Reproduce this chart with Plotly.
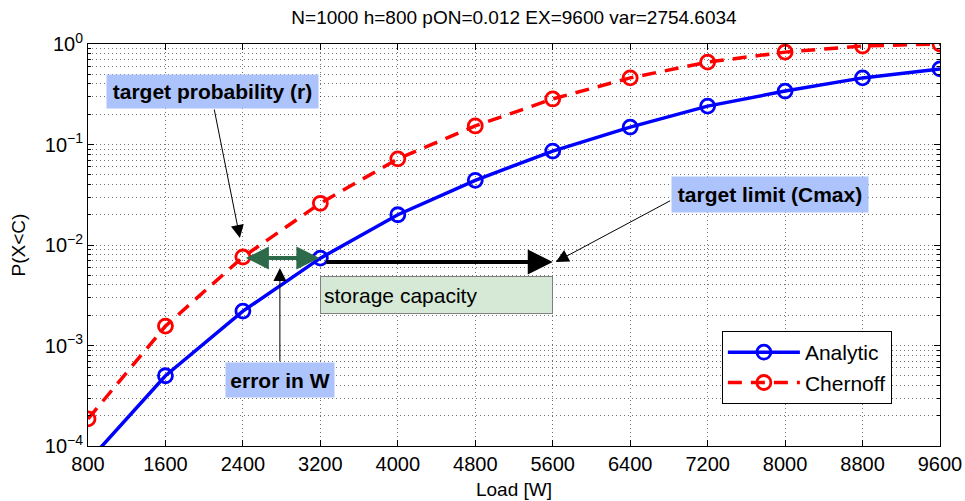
import plotly.graph_objects as go

# ---- data ----
load_w = [800, 1600, 2400, 3200, 4000, 4800, 5600, 6400, 7200, 8000, 8800, 9600]
analytic = [7.0e-5, 5.0e-4, 2.2e-3, 7.4e-3, 0.020, 0.044, 0.086, 0.149, 0.241, 0.34, 0.46, 0.565]
chernoff = [1.86e-4, 1.56e-3, 7.6e-3, 0.026, 0.072, 0.153, 0.284, 0.46, 0.66, 0.83, 0.955, 1.0]
x_ticks = [800, 1600, 2400, 3200, 4000, 4800, 5600, 6400, 7200, 8000, 8800, 9600]
y_ticks = [1e-4, 1e-3, 1e-2, 1e-1, 1]
y_ticktext = ["10<sup>−4</sup>", "10<sup>−3</sup>", "10<sup>−2</sup>", "10<sup>−1</sup>", "10<sup>0</sup>"]
y_minor = [m * 10 ** e for e in range(-4, 0) for m in range(2, 10)]

title_text = "N=1000 h=800 pON=0.012 EX=9600 var=2754.6034"
FONT = "Liberation Sans, Arial, Helvetica, sans-serif"
GRID = "rgba(0,0,0,0.55)"
DOT = "1px,3px"

fig = go.Figure()
fig.add_trace(go.Scatter(
    x=load_w, y=analytic, name="Analytic", mode="lines+markers",
    line=dict(color="#0000ff", width=3.5),
    marker=dict(symbol="circle-open", size=14, color="#0000ff", line=dict(width=2.8, color="#0000ff")),
))
fig.add_trace(go.Scatter(
    x=load_w, y=chernoff, name="Chernoff", mode="lines+markers",
    line=dict(color="#ff0000", width=3.5, dash="14px,9px"),
    marker=dict(symbol="circle-open", size=14, color="#ff0000", line=dict(width=2.8, color="#ff0000")),
))

BLUE_BOX = "#adc3fb"

ann = []
# boxes
ann.append(dict(x=2090, y=-0.468, xref="x", yref="y", text="<b>target probability (r)</b>",
                showarrow=False, bgcolor=BLUE_BOX, font=dict(size=21, color="black", family=FONT),
                width=205, height=27, borderpad=3))
ann.append(dict(x=7840, y=-1.498, xref="x", yref="y", text="<b>target limit (Cmax)</b>",
                showarrow=False, bgcolor=BLUE_BOX, font=dict(size=21, color="black", family=FONT),
                width=190, height=29, borderpad=3))
ann.append(dict(x=4397, y=-2.498, xref="x", yref="y", text="storage capacity",
                showarrow=False, bgcolor="#d6e8d6", bordercolor="#7f7f7f", borderwidth=1,
                font=dict(size=21, color="black", family=FONT), align="left",
                width=225, height=30, borderpad=3))
ann.append(dict(x=2782, y=-3.343, xref="x", yref="y", text="<b>error in W</b>",
                showarrow=False, bgcolor=BLUE_BOX, font=dict(size=21, color="black", family=FONT),
                width=102, height=28, borderpad=3))


def arrow(x, y, ax, ay, color="black", width=1, size=1.0, head=2, side="end"):
    return dict(x=x, y=y, ax=ax, ay=ay, xref="x", yref="y", axref="x", ayref="y",
                text="", showarrow=True, arrowcolor=color, arrowwidth=width,
                arrowsize=size, arrowhead=head, startarrowhead=head, startarrowsize=size,
                arrowside=side, standoff=0, startstandoff=0)


ann.append(arrow(2369, -1.93, 2101, -0.637, width=1, size=2.6))
ann.append(arrow(5631, -2.169, 6828, -1.552, width=1, size=2.6))
ann.append(arrow(2782, -2.229, 2782, -3.174, width=1, size=2.6))
ann.append(arrow(5600, -2.169, 3246, -2.169, width=4, size=1.25))
ann.append(arrow(3190, -2.129, 2415, -2.129, color="#2d6a4a", width=4, size=1.15, side="end+start"))

fig.update_layout(
    width=965, height=501,
    margin=dict(l=88, r=25, t=44, b=55, autoexpand=False),
    paper_bgcolor="white", plot_bgcolor="white",
    font=dict(family=FONT, size=20, color="black"),
    title=dict(text=title_text, x=0.5, xref="paper", xanchor="center", y=0.965, yanchor="middle",
               font=dict(size=19, family=FONT)),
    showlegend=True,
    legend=dict(x=0.744, y=0.286, xanchor="left", yanchor="top", bgcolor="white",
                bordercolor="black", borderwidth=1, font=dict(size=21, family=FONT),
                tracegroupgap=0, itemwidth=72),
    annotations=ann,
)
fig.update_xaxes(
    range=[800, 9600], tickvals=x_ticks, ticks="inside", ticklen=6, tickcolor="black",
    showline=True, linecolor="black", linewidth=1, mirror="ticks", automargin=False,
    showgrid=True, gridcolor=GRID, griddash=DOT, gridwidth=1, zeroline=False,
    tickfont=dict(size=20, family=FONT),
    title=dict(text="Load [W]", font=dict(size=19, family=FONT), standoff=8),
)
fig.update_yaxes(
    type="log", range=[-4, 0], tickvals=y_ticks, ticktext=y_ticktext, automargin=False,
    ticks="inside", ticklen=6, tickcolor="black",
    showline=True, linecolor="black", linewidth=1, mirror="ticks",
    showgrid=True, gridcolor=GRID, griddash=DOT, gridwidth=1, zeroline=False,
    tickfont=dict(size=20, family=FONT),
    minor=dict(tickvals=y_minor, ticks="inside", ticklen=3, tickcolor="black",
               showgrid=True, gridcolor=GRID, griddash=DOT, gridwidth=1),
    title=dict(text="P(X<C)", font=dict(size=19, family=FONT), standoff=14),
)

fig.write_html("out.html")
